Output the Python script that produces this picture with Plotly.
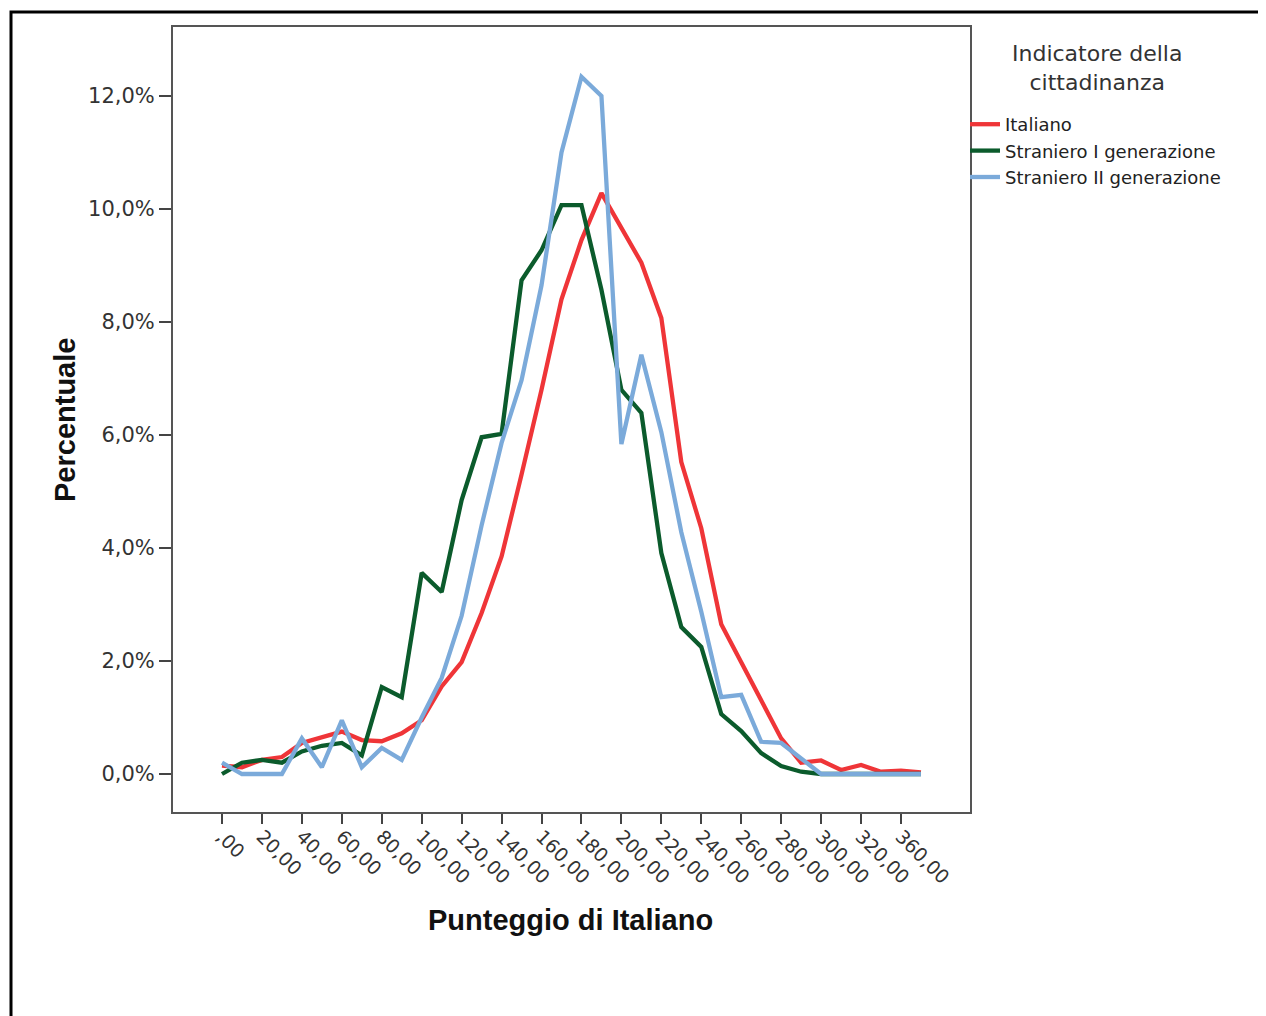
import plotly.graph_objects as go

# ---- data -------------------------------------------------------------
score_categories = [",00", "10,00", "20,00", "30,00", "40,00", "50,00", "60,00", "70,00",
                    "80,00", "90,00", "100,00", "110,00", "120,00", "130,00", "140,00",
                    "150,00", "160,00", "170,00", "180,00", "190,00", "200,00", "210,00",
                    "220,00", "230,00", "240,00", "250,00", "260,00", "270,00", "280,00",
                    "290,00", "300,00", "310,00", "320,00", "340,00", "360,00", "370,00"]

italiano = [0.15, 0.12, 0.25, 0.30, 0.55, 0.65, 0.75, 0.60, 0.58, 0.72, 0.95, 1.55,
            1.98, 2.85, 3.85, 5.30, 6.80, 8.40, 9.45, 10.28, 9.65, 9.05, 8.07, 5.52,
            4.35, 2.65, 1.98, 1.30, 0.63, 0.20, 0.24, 0.07, 0.16, 0.04, 0.06, 0.03]

straniero_1 = [0.00, 0.20, 0.25, 0.20, 0.40, 0.50, 0.55, 0.33, 1.54, 1.36, 3.56, 3.22,
               4.85, 5.96, 6.02, 8.74, 9.27, 10.07, 10.07, 8.57, 6.80, 6.39, 3.91, 2.60,
               2.25, 1.06, 0.76, 0.37, 0.14, 0.04, 0.00, 0.00, 0.00, 0.00, 0.00, 0.00]

straniero_2 = [0.20, 0.00, 0.00, 0.00, 0.63, 0.12, 0.95, 0.12, 0.46, 0.25, 1.00, 1.70,
               2.80, 4.40, 5.86, 6.97, 8.65, 11.00, 12.34, 12.00, 5.84, 7.42, 6.05, 4.28,
               2.87, 1.36, 1.40, 0.57, 0.55, 0.28, 0.00, 0.00, 0.00, 0.00, 0.00, 0.00]

x_tick_labels = [",00", "20,00", "40,00", "60,00", "80,00", "100,00", "120,00", "140,00",
                 "160,00", "180,00", "200,00", "220,00", "240,00", "260,00", "280,00",
                 "300,00", "320,00", "360,00"]

y_tick_values = [0, 2, 4, 6, 8, 10, 12]
y_tick_labels = ["0,0%", "2,0%", "4,0%", "6,0%", "8,0%", "10,0%", "12,0%"]

series_names = ["Italiano", "Straniero I generazione", "Straniero II generazione"]
series_colors = ["#EF3538", "#0B5B2C", "#7BAADA"]

# ---- figure -------------------------------------------------------------
W, H = 1266, 1016
OFF = 8  # page body margin
# plot area in page pixels
PL, PR, PT, PB = 173, 970, 27, 812
L, R, T, B = PL - OFF, PR - OFF, PT - OFF, PB - OFF


def px_x(p):
    return (p - PL) / (PR - PL)


def px_y(p):
    return (PB - p) / (PB - PT)


fig = go.Figure()
for name, vals, col in zip(series_names, [italiano, straniero_1, straniero_2], series_colors):
    fig.add_trace(go.Scatter(x=score_categories, y=vals, mode="lines", name=name,
                             line=dict(color=col, width=4.3), hoverinfo="skip"))

spacing = 19.97
x_left = -(222 - PL) / spacing
x_right = x_left + (PR - PL) / spacing
y_per = 56.5
y_bottom = -(PB - 774) / y_per
y_top = (774 - PT) / y_per

tick_font = dict(family="DejaVu Sans", size=21, color="#333333")

fig.update_layout(
    width=W, height=H,
    margin=dict(l=L, r=W - R, t=T, b=H - B, pad=0),
    paper_bgcolor="white", plot_bgcolor="white",
    showlegend=True,
    legend=dict(x=px_x(965), y=px_y(106), xanchor="left", yanchor="top",
                font=dict(family="DejaVu Sans", size=18, color="#222222"),
                bgcolor="rgba(0,0,0,0)", itemwidth=30, tracegroupgap=0),
    xaxis=dict(type="category", categoryorder="array", categoryarray=score_categories,
               range=[x_left, x_right], tickmode="array", tickvals=x_tick_labels,
               ticktext=x_tick_labels, tickangle=45, ticks="outside", ticklen=10,
               tickwidth=1.5, tickcolor="#444444", showgrid=False, zeroline=False,
               showline=True, mirror=True, linecolor="#555555", linewidth=2,
               tickfont=dict(family="DejaVu Sans", size=19, color="#333333"),
               ticklabelstandoff=-6),
    yaxis=dict(range=[y_bottom, y_top], tickmode="array", tickvals=y_tick_values,
               ticktext=y_tick_labels, ticks="outside", ticklen=12, tickwidth=1.5,
               tickcolor="#444444", showgrid=False, zeroline=False, showline=True,
               mirror=True, linecolor="#555555", linewidth=2, tickfont=tick_font),
)

# axis titles
fig.add_annotation(text="<b>Punteggio di Italiano</b>", xref="paper", yref="paper",
                   x=px_x(570), y=px_y(920), showarrow=False, xanchor="center", yanchor="middle",
                   font=dict(family="Liberation Sans, Arial", size=29, color="#111111"))
fig.add_annotation(text="<b>Percentuale</b>", xref="paper", yref="paper",
                   x=px_x(65), y=px_y(420), showarrow=False, textangle=-90,
                   xanchor="center", yanchor="middle",
                   font=dict(family="Liberation Sans, Arial", size=29, color="#111111"))
# legend title
fig.add_annotation(text="Indicatore della<br>cittadinanza", xref="paper", yref="paper",
                   x=px_x(1097), y=px_y(68), showarrow=False, align="center",
                   xanchor="center", yanchor="middle",
                   font=dict(family="DejaVu Sans", size=22, color="#333333"))

# outer frame of the picture
fig.add_shape(type="rect", xref="paper", yref="paper",
              x0=px_x(11), x1=px_x(1262), y0=px_y(1040), y1=px_y(12),
              line=dict(color="black", width=3), fillcolor="rgba(0,0,0,0)", layer="above")

fig.write_html("out.html")
